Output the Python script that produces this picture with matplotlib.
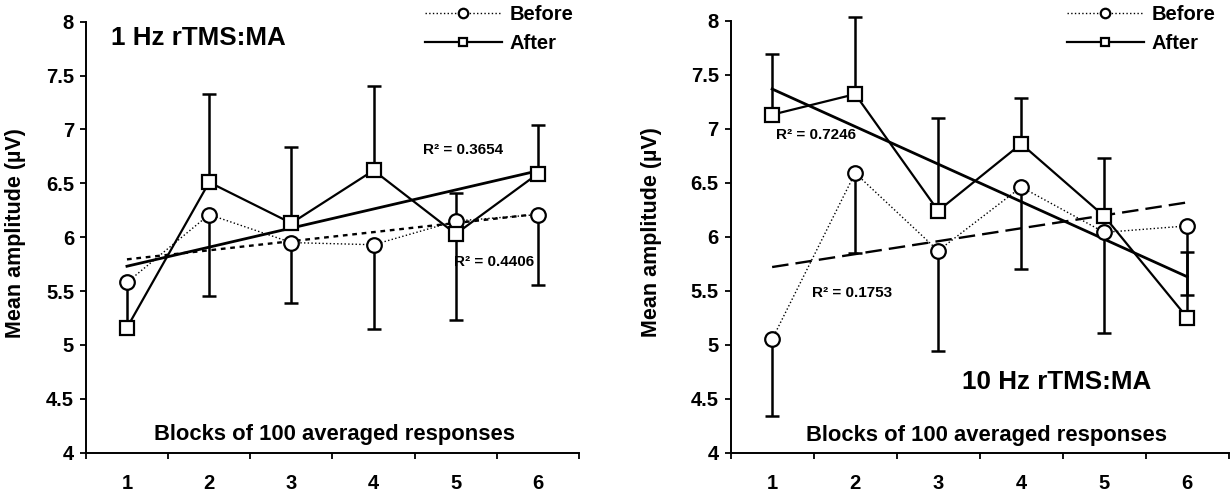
import numpy as np
import matplotlib
matplotlib.use("Agg")
import matplotlib.pyplot as plt

plt.rcParams['font.family'] = ['Liberation Sans', 'DejaVu Sans']
plt.rcParams['font.weight'] = 'bold'

blocks = [1, 2, 3, 4, 5, 6]

# 1 Hz rTMS
before_1hz = [5.58, 6.21, 5.95, 5.93, 6.15, 6.21]
before_1hz_err = [0.45, 0.76, 0.56, 0.78, 0.92, 0.65]   # minus side
after_1hz = [5.16, 6.51, 6.13, 6.62, 6.03, 6.59]
after_1hz_err = [0.03, 0.82, 0.71, 0.78, 0.38, 0.45]    # plus side

# 10 Hz rTMS
before_10hz = [5.05, 6.59, 5.87, 6.46, 6.04, 6.10]
before_10hz_err = [0.71, 0.74, 0.93, 0.76, 0.93, 0.64]
after_10hz = [7.13, 7.32, 6.24, 6.86, 6.19, 5.25]
after_10hz_err = [0.56, 0.71, 0.86, 0.42, 0.54, 0.61]

fig = plt.figure(figsize=(12.3, 4.92), dpi=100)
ax1 = fig.add_axes([0.0698, 0.0799, 0.401, 0.876])
ax2 = fig.add_axes([0.594, 0.0799, 0.405, 0.878])


def panel(ax, before, b_err, after, a_err, before_trend_dash):
    x = np.array(blocks)
    zeros = np.zeros(len(x))
    for y, err in [(after, [zeros, a_err]), (before, [b_err, zeros])]:
        eb = ax.errorbar(x, y, yerr=err, fmt='none', ecolor='k',
                         elinewidth=1.8, capsize=4.7, capthick=1.8, zorder=2)
        for art in eb.lines[1] + eb.lines[2]:
            art.set_clip_on(False)

    # linear trendlines
    pa = np.polyfit(x, after, 1)
    pb = np.polyfit(x, before, 1)
    ax.plot(x, np.polyval(pa, x), color='k', lw=2.0, zorder=2)
    ax.plot(x, np.polyval(pb, x), color='k', lw=1.7, dashes=before_trend_dash, zorder=2)

    ax.plot(x, before, color='k', lw=1.0, ls=':', marker='o', ms=10.5,
            mfc='white', mec='k', mew=1.6, zorder=3, label='Before')
    ax.plot(x, after, color='k', lw=1.6, marker='s', ms=9.5,
            mfc='white', mec='k', mew=1.6, zorder=4, label='After')

    ax.set_xlim(0.5, 6.5)
    ax.set_ylim(4, 8)
    ax.set_yticks([4, 4.5, 5, 5.5, 6, 6.5, 7, 7.5, 8])
    ax.set_yticklabels(['4', '4.5', '5', '5.5', '6', '6.5', '7', '7.5', '8'])
    ax.set_xticks(np.arange(0.5, 7.0, 1.0))
    ax.set_xticklabels([])
    ax.set_xticks(blocks, minor=True)
    ax.set_xticklabels([str(b) for b in blocks], minor=True)
    ax.tick_params(axis='x', which='major', direction='out', length=4.5, width=1.3)
    ax.tick_params(axis='x', which='minor', length=0, pad=15, labelsize=14.5)
    ax.tick_params(axis='y', direction='out', length=4.5, width=1.3, pad=4, labelsize=14.5)
    for s in ['top', 'right']:
        ax.spines[s].set_visible(False)
    for s in ['left', 'bottom']:
        ax.spines[s].set_linewidth(1.4)
    ax.set_ylabel('Mean amplitude (µV)', fontsize=15.5, fontweight='bold')
    ax.yaxis.set_label_coords(-0.122, 0.51)


panel(ax1, before_1hz, before_1hz_err, after_1hz, after_1hz_err, (2, 2))
panel(ax2, before_10hz, before_10hz_err, after_10hz, after_10hz_err, (7, 3))
ax2.yaxis.set_label_coords(-0.137, 0.51)

ax1.text(0.80, 7.85, '1 Hz rTMS:MA', fontsize=18.7, fontweight='bold', ha='left', va='center')
ax1.text(4.60, 6.81, 'R² = 0.3654', fontsize=11, ha='left', va='center')
ax1.text(4.98, 5.77, 'R² = 0.4406', fontsize=11, ha='left', va='center')
ax1.text(3.53, 4.165, 'Blocks of 100 averaged responses', fontsize=15.8, ha='center', va='center')

ax2.text(3.29, 4.65, '10 Hz rTMS:MA', fontsize=18.7, fontweight='bold', ha='left', va='center')
ax2.text(1.05, 6.94, 'R² = 0.7246', fontsize=11, ha='left', va='center')
ax2.text(1.48, 5.48, 'R² = 0.1753', fontsize=11, ha='left', va='center')
ax2.text(3.58, 4.16, 'Blocks of 100 averaged responses', fontsize=15.8, ha='center', va='center')

for ax, xa in [(ax1, 425), (ax2, 1067)]:
    ax.legend(loc='upper left', bbox_to_anchor=(xa / 1230, 1 - 5 / 492),
              bbox_transform=fig.transFigure, frameon=False, borderpad=0,
              borderaxespad=0, handlelength=3.8, handletextpad=0.4,
              labelspacing=0.5, markerscale=0.65,
              prop={'size': 14.5, 'weight': 'bold'})

fig.savefig('out.png', dpi=100)
